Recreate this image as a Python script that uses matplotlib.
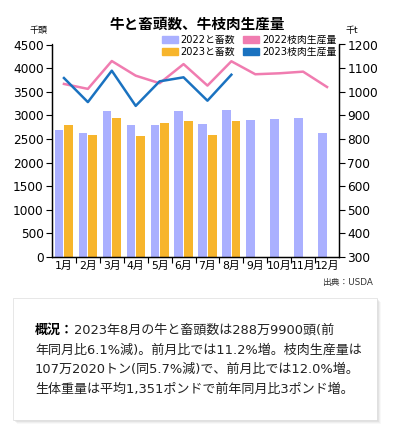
import matplotlib
matplotlib.use("Agg")
import matplotlib.pyplot as plt
from matplotlib.patches import Patch, Rectangle
import numpy as np

plt.rcParams['font.family'] = ['DejaVu Sans', 'Noto Sans CJK JP']

months = ["1月", "2月", "3月", "4月", "5月", "6月", "7月", "8月", "9月", "10月", "11月", "12月"]
slaughter_2022 = [2686, 2622, 3087, 2785, 2785, 3087, 2806, 3122, 2911, 2932, 2954, 2616]
slaughter_2023 = [2785, 2574, 2954, 2553, 2842, 2884, 2581, 2890]
beef_2022 = [1033, 1012, 1130, 1068, 1036, 1117, 1026, 1129, 1074, 1078, 1085, 1020]
beef_2023 = [1058, 956, 1089, 940, 1044, 1061, 962, 1072]

title = "牛と畜頭数、牛枝肉生産量"
legend_labels = ["2022と畜数", "2023と畜数", "2022枝肉生産量", "2023枝肉生産量"]
summary_bold = "概況："
summary_lines = [
    "2023年8月の牛と畜頭数は288万9900頭(前",
    "年同月比6.1%減)。前月比では11.2%増。枝肉生産量は",
    "107万2020トン(同5.7%減)で、前月比では12.0%増。",
    "生体重量は平均1,351ポンドで前年同月比3ポンド増。",
]

c22 = "#AAB0FF"
c23 = "#F7B52C"
p22 = "#F07CB0"
b23 = "#1A72C0"

W, H = 393, 433
fig = plt.figure(figsize=(W / 100, H / 100), dpi=100)
fig.patch.set_facecolor("white")

def fx(px):
    return px / W

def fy(py):
    return 1 - py / H

L, R, T, B = 52, 339, 44.5, 257
ax = fig.add_axes([fx(L), fy(B), fx(R - L), (B - T) / H])
ax2 = ax.twinx()

x = np.arange(len(months))
bw = 0.36
ax.bar(x[:len(slaughter_2022)] - bw / 2 - 0.02, slaughter_2022, width=bw, color=c22, zorder=2)
ax.bar(x[:len(slaughter_2023)] + bw / 2 + 0.02, slaughter_2023, width=bw, color=c23, zorder=2)
ax2.plot(x[:len(beef_2022)], beef_2022, color=p22, lw=1.8)
ax2.plot(x[:len(beef_2023)], beef_2023, color=b23, lw=1.8)

ax.set_xlim(-0.5, 11.5)
ax.set_ylim(0, 4500)
ax.set_yticks(np.arange(0, 4501, 500))
ax2.set_ylim(300, 1200)
ax2.set_yticks(np.arange(300, 1201, 100))

ax.set_xticks(x)
ax.set_xticklabels(months, fontsize=7.8)
ax.set_xticks(np.arange(0.5, 11.5, 1), minor=True)
ax.tick_params(axis='x', which='major', length=0, pad=3)
ax.tick_params(axis='x', which='minor', length=4, width=0.8, direction='out')
ax.tick_params(axis='y', labelsize=8.7, length=4, width=0.8, pad=2)
ax2.tick_params(axis='y', labelsize=8.7, length=4, width=0.8, pad=2)

for a in (ax, ax2):
    a.spines['top'].set_visible(False)
    for s in ('left', 'right', 'bottom'):
        a.spines[s].set_linewidth(0.9)
        a.spines[s].set_color('black')

fig.text(fx(197), fy(24), title, ha='center', va='center', fontsize=10.5, fontweight='bold')
fig.text(fx(39), fy(30), "千頭", ha='center', va='center', fontsize=6.5)
fig.text(fx(352), fy(30), "千t", ha='center', va='center', fontsize=6.5)
fig.text(fx(373), fy(283), "出典：USDA", ha='right', va='center', fontsize=6.3, color='#333333')

handles = [Patch(color=c22), Patch(color=c23), Patch(color=p22), Patch(color=b23)]
fig.legend(handles, legend_labels, loc='upper left', bbox_to_anchor=(fx(162), fy(35)),
           ncol=2, frameon=False, fontsize=7.1, handlelength=1.6, handleheight=0.8,
           handletextpad=0.3, columnspacing=0.8, labelspacing=0.2, borderpad=0, borderaxespad=0)

# summary box with shadow
bx0, by0, bx1, by1 = 13, 298, 377, 420
for i, a in enumerate([0.06, 0.08, 0.12, 0.18]):
    off = 4 - i
    fig.patches.append(Rectangle((fx(bx0 + off), fy(by1 + off)), fx(bx1 - bx0), (by1 - by0) / H,
                                 transform=fig.transFigure, facecolor='#888888', alpha=a,
                                 edgecolor='none', zorder=1))
fig.patches.append(Rectangle((fx(bx0), fy(by1)), fx(bx1 - bx0), (by1 - by0) / H,
                             transform=fig.transFigure, facecolor='white', edgecolor='#dddddd',
                             lw=0.5, zorder=2))

fs = 9.4
ys = [330, 350, 369.5, 389]
tb = fig.text(fx(35), fy(ys[0]), summary_bold, ha='left', va='center', fontsize=fs, fontweight='bold', zorder=3)
fig.canvas.draw()
bb = tb.get_window_extent()
fig.text(bb.x1 / W, fy(ys[0]), summary_lines[0], ha='left', va='center', fontsize=fs, color='#222222', zorder=3)
for yy, line in zip(ys[1:], summary_lines[1:]):
    fig.text(fx(35), fy(yy), line, ha='left', va='center', fontsize=fs, color='#222222', zorder=3)

fig.savefig("out.png", dpi=100)
